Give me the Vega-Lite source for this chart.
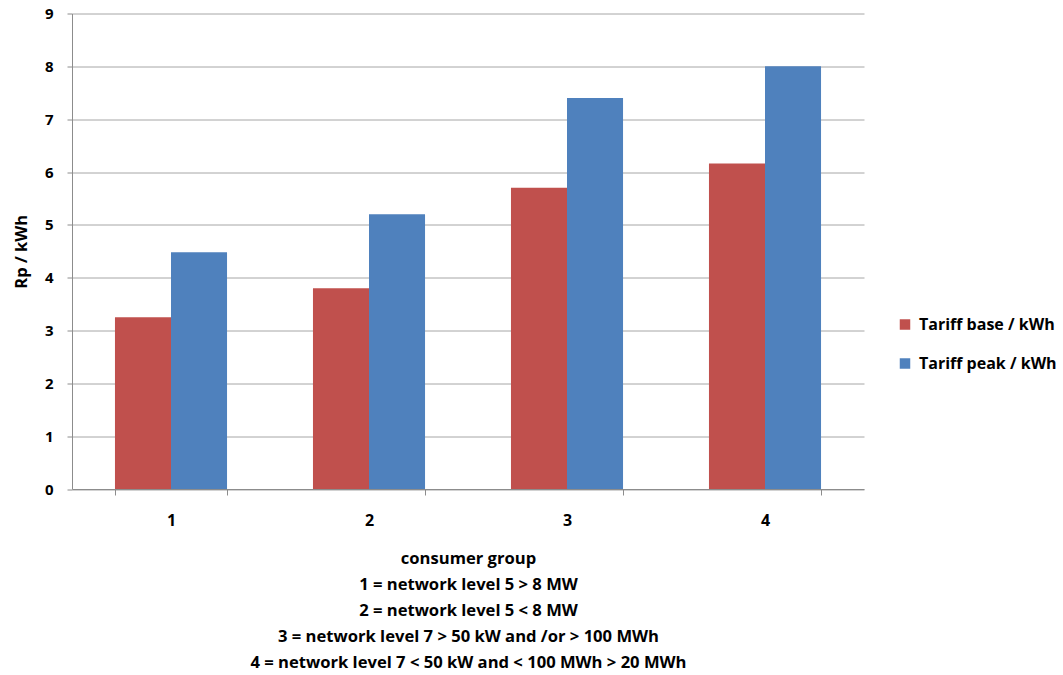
{
  "$schema": "https://vega.github.io/schema/vega-lite/v6.json",
  "autosize": "none",
  "width": 792,
  "height": 475.5,
  "padding": {"left": 72, "top": 13.5, "right": 199, "bottom": 186},
  "background": "white",
  "config": {
    "view": {"stroke": null},
    "font": "Open Sans"
  },
  "data": {
    "values": [
      {"group": "1", "tariff": "Tariff base / kWh", "value": 3.25},
      {"group": "1", "tariff": "Tariff peak / kWh", "value": 4.48},
      {"group": "2", "tariff": "Tariff base / kWh", "value": 3.8},
      {"group": "2", "tariff": "Tariff peak / kWh", "value": 5.2},
      {"group": "3", "tariff": "Tariff base / kWh", "value": 5.7},
      {"group": "3", "tariff": "Tariff peak / kWh", "value": 7.4},
      {"group": "4", "tariff": "Tariff base / kWh", "value": 6.16},
      {"group": "4", "tariff": "Tariff peak / kWh", "value": 8.0}
    ]
  },
  "mark": {"type": "bar"},
  "encoding": {
    "x": {
      "field": "group",
      "type": "nominal",
      "scale": {"paddingInner": 0.434, "paddingOuter": 0.217},
      "axis": {
        "title": [
          "consumer group",
          "1 = network level 5 > 8 MW",
          "2 = network level 5 < 8 MW",
          "3 = network level 7 > 50 kW and /or > 100 MWh",
          "4 = network level 7 < 50 kW and < 100 MWh > 20 MWh"
        ],
        "titleFont": "Open Sans",
        "titleFontSize": 16.6,
        "titleFontWeight": "bold",
        "titleColor": "#000000",
        "titleLineHeight": 26,
        "titlePadding": 22,
        "labelAngle": 0,
        "labelFont": "Open Sans",
        "labelFontSize": 16,
        "labelFontWeight": "bold",
        "labelColor": "#000000",
        "labelPadding": 17,
        "tickBand": "extent",
        "tickSize": 6,
        "tickColor": "#8c8c8c",
        "domainColor": "#8c8c8c",
        "grid": false
      }
    },
    "xOffset": {"field": "tariff", "type": "nominal"},
    "y": {
      "field": "value",
      "type": "quantitative",
      "scale": {"domain": [0, 9], "nice": false},
      "axis": {
        "title": "Rp / kWh",
        "titleFont": "Open Sans",
        "titleFontSize": 16.5,
        "titleFontWeight": "bold",
        "titleColor": "#000000",
        "titlePadding": 15,
        "values": [0, 1, 2, 3, 4, 5, 6, 7, 8, 9],
        "labelFont": "Open Sans",
        "labelFontSize": 15,
        "labelFontWeight": "bold",
        "labelColor": "#000000",
        "labelPadding": 14,
        "tickSize": 5,
        "tickColor": "#8c8c8c",
        "domainColor": "#8c8c8c",
        "grid": true,
        "gridColor": "#a6a6a6",
        "gridWidth": 1
      }
    },
    "color": {
      "field": "tariff",
      "type": "nominal",
      "scale": {
        "domain": ["Tariff base / kWh", "Tariff peak / kWh"],
        "range": ["#C0504D", "#4F81BD"]
      },
      "legend": {
        "title": null,
        "orient": "none",
        "legendX": 825,
        "legendY": 303,
        "symbolType": "square",
        "symbolSize": 110,
        "symbolStrokeWidth": 0,
        "labelFont": "Open Sans",
        "labelFontSize": 16,
        "labelFontWeight": "bold",
        "labelColor": "#000000",
        "labelOffset": 6,
        "labelLimit": 200,
        "rowPadding": 23
      }
    }
  }
}
